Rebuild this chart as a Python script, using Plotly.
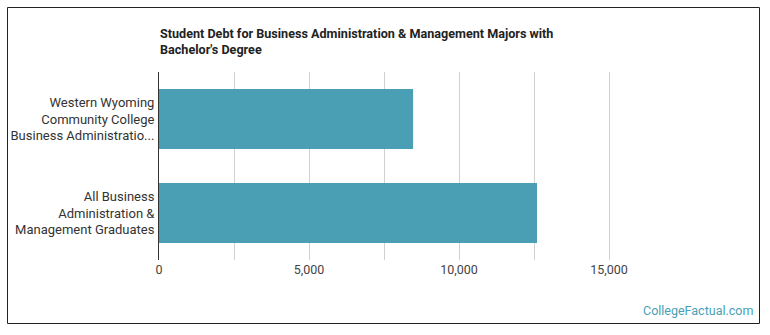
import plotly.graph_objects as go

categories = ["Western Wyoming<br>Community College<br>Business Administratio...",
              "All Business<br>Administration &<br>Management Graduates"]
values = [8470, 12600]
tick_vals = [0, 2500, 5000, 7500, 10000, 12500, 15000]
tick_text = ["0", "", "5,000", "", "10,000", "", "15,000"]

W, H = 770, 335
L, R, T, B = 159, 101, 72, 75
pw, ph = W - L - R, H - T - B

def px(x):
    return (x - L) / pw

def py(y):
    return 1 - (y - T) / ph

fig = go.Figure(go.Bar(
    y=categories, x=values, orientation="h",
    marker=dict(color="#4a9fb5", line=dict(width=0)),
    width=0.64, hoverinfo="skip"))

fig.update_layout(
    width=W, height=H,
    margin=dict(l=L, r=R, t=T, b=B),
    paper_bgcolor="white", plot_bgcolor="white",
    font=dict(family="Roboto", size=12, color="#333"),
    showlegend=False,
    xaxis=dict(range=[0, 17000], tickvals=tick_vals, ticktext=tick_text,
               showgrid=True, gridcolor="#d0d0d0", gridwidth=1,
               zeroline=False, showline=False, ticks="",
               tickfont=dict(size=12.5, color="#444")),
    yaxis=dict(autorange="reversed", showline=True, linecolor="#333", linewidth=1,
               ticks="", ticklabelstandoff=1,
               tickfont=dict(size=13, color="#333")),
    shapes=[dict(type="rect", xref="paper", yref="paper",
                 x0=px(7.5), x1=px(759.5), y0=py(7.5), y1=py(323.5),
                 line=dict(color="#222", width=1), fillcolor="rgba(0,0,0,0)",
                 layer="below")],
    annotations=[
        dict(text="<b>Student Debt for Business Administration & Management Majors with<br>Bachelor's Degree</b>",
             xref="paper", yref="paper", x=px(158), y=py(24), xanchor="left", yanchor="top",
             align="left", showarrow=False, font=dict(size=12.6, color="#222")),
        dict(text="CollegeFactual.com", xref="paper", yref="paper",
             x=px(755), y=py(320), xanchor="right", yanchor="bottom",
             showarrow=False, font=dict(size=12.5, color="#4a9fb5")),
    ],
)

fig.write_html("out.html")
